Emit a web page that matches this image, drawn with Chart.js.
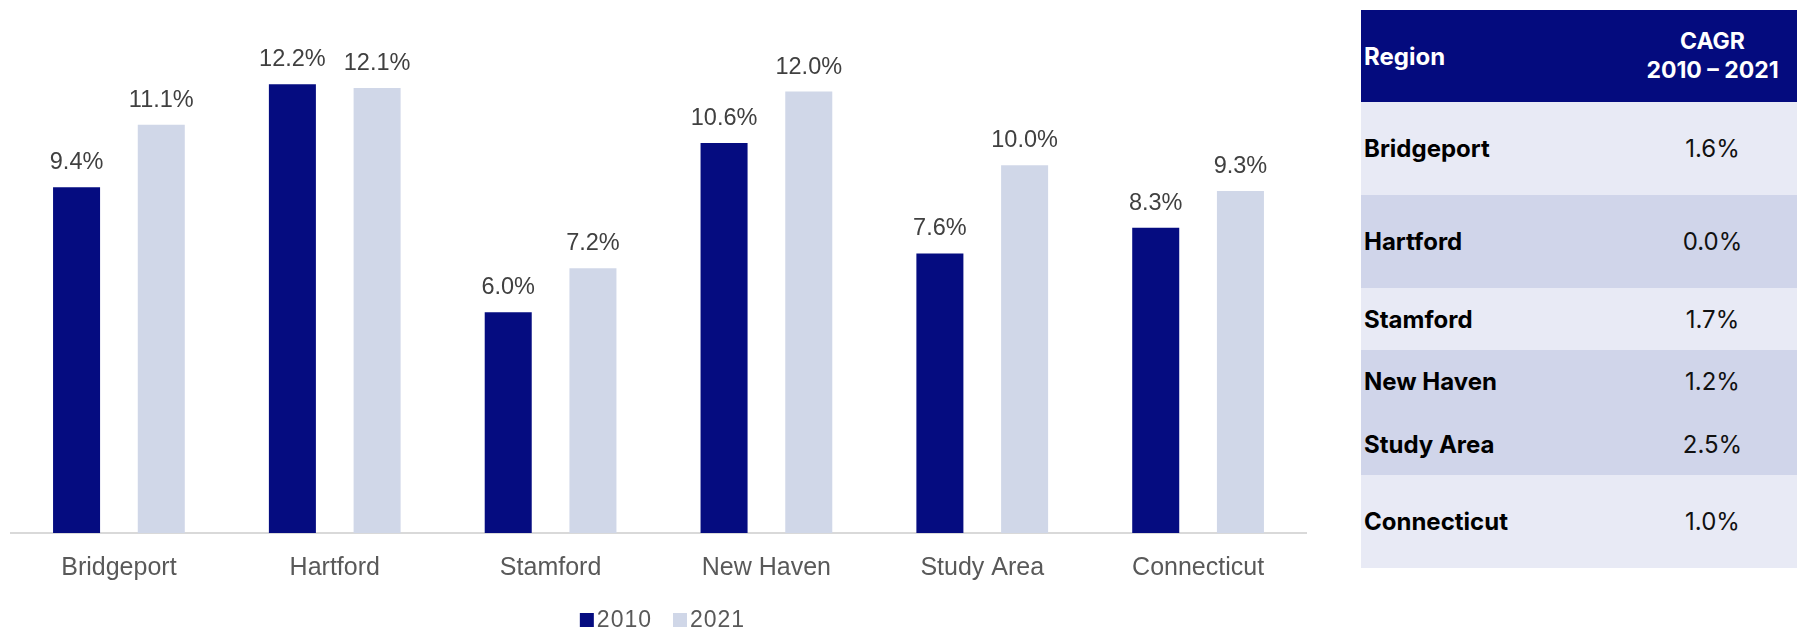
<!DOCTYPE html>
<html>
<head>
<meta charset="utf-8">
<script src="https://cdn.jsdelivr.net/npm/chart.js@4/dist/chart.umd.min.js"></script>
<style>
  body { margin: 0; background: #fff; font-family: Inter, sans-serif; }
  #wrap { position: relative; width: 1797px; height: 634px; }
  #chartBox { position: absolute; left: 0; top: 0; width: 1340px; height: 634px; }
  #cagr { position: absolute; left: 1361px; top: 10px; width: 436px; border-collapse: collapse; }
  #cagr td, #cagr th { padding: 0; font-size: 24px; }
  #cagr th { background: #040b7e; color: #fff; font-weight: 700; height: 92px; line-height: 29px; }
  #cagr th.reg { text-align: left; padding-left: 3px; width: 264px; }
  #cagr th.val { text-align: center; font-size: 23px; }
  #cagr td.reg { font-weight: 700; color: #000; padding-left: 3px; }
  #cagr td.val { text-align: center; color: #111; }
  #cagr tr.light td { background: #e8eaf5; }
  #cagr tr.dark td { background: #d0d5ea; }
</style>
</head>
<body>
<div id="wrap">
  <div id="chartBox"><canvas id="barChart"></canvas></div>
  <table id="cagr">
    <thead>
      <tr><th class="reg">Region</th><th class="val">CAGR<br>2010 – 2021</th></tr>
    </thead>
    <tbody id="cagrBody"></tbody>
  </table>
</div>
<script>
const regions = ["Bridgeport", "Hartford", "Stamford", "New Haven", "Study Area", "Connecticut"];
const share2010 = [9.4, 12.2, 6.0, 10.6, 7.6, 8.3];
const share2021 = [11.1, 12.1, 7.2, 12.0, 10.0, 9.3];
const cagr = [1.6, 0.0, 1.7, 1.2, 2.5, 1.0];

// table rows: height and shade per region
const rowHeights = [93, 93, 62, 63, 62, 93];
const rowShades = ["light", "dark", "light", "dark", "dark", "light"];

const body = document.getElementById("cagrBody");
regions.forEach((name, i) => {
	const tr = document.createElement("tr");
	tr.className = rowShades[i];
	tr.style.height = rowHeights[i] + "px";
	tr.innerHTML = "<td class='reg'>" + name + "</td><td class='val'>" + cagr[i].toFixed(1) + "%</td>";
	body.appendChild(tr);
});

const labelFont = "'Liberation Sans', Arial, sans-serif";

// value labels above each bar
const barValues = {
	id: "barValues",
	afterDatasetsDraw(chart) {
		const ctx = chart.ctx;
		ctx.save();
		ctx.font = "23.5px " + labelFont;
		ctx.fillStyle = "#404040";
		ctx.textAlign = "center";
		ctx.textBaseline = "alphabetic";
		chart.data.datasets.forEach((ds, di) => {
			chart.getDatasetMeta(di).data.forEach((bar, i) => {
				ctx.fillText(ds.data[i].toFixed(1) + "%", bar.x, bar.y - 18);
			});
		});
		ctx.restore();
	}
};

// compact legend under the axis: small square right next to the text
const tightLegend = {
	id: "tightLegend",
	afterDraw(chart) {
		const ctx = chart.ctx;
		const box = 14, gap = 3, spacing = 21;
		ctx.save();
		ctx.font = "23px " + labelFont;
		ctx.letterSpacing = "1px";
		const items = chart.data.datasets.map(ds => ({ text: ds.label, color: ds.backgroundColor, w: ctx.measureText(ds.label).width }));
		const total = items.reduce((s, it) => s + box + gap + it.w, 0) + spacing * (items.length - 1);
		let x = (chart.chartArea.left + chart.chartArea.right) / 2 + 4 - total / 2;
		const cy = 620;
		ctx.textBaseline = "middle";
		ctx.textAlign = "left";
		items.forEach(it => {
			ctx.fillStyle = it.color;
			ctx.fillRect(x, cy - box / 2, box, box);
			x += box + gap;
			ctx.fillStyle = "#595959";
			ctx.fillText(it.text, x, cy + 1);
			x += it.w + spacing;
		});
		ctx.restore();
	}
};

new Chart(document.getElementById("barChart"), {
	type: "bar",
	data: {
		labels: regions,
		datasets: [
			{ label: "2010", data: share2010, backgroundColor: "#050c80" },
			{ label: "2021", data: share2021, backgroundColor: "#d0d7e8" }
		]
	},
	options: {
		responsive: true,
		maintainAspectRatio: false,
		animation: false,
		categoryPercentage: 0.785,
		barPercentage: 0.555,
		layout: { padding: { left: 11, right: 34, top: 18, bottom: 45 } },
		plugins: {
			tooltip: { enabled: false },
			legend: { display: false }
		},
		scales: {
			x: {
				grid: { display: false },
				border: { display: true, color: "#d9d9d9", width: 2 },
				ticks: { color: "#595959", font: { family: labelFont, size: 25 }, padding: 12 },
				afterFit: (s) => { s.height = 56; }
			},
			y: {
				display: false,
				min: 0,
				max: 14
			}
		}
	},
	plugins: [barValues, tightLegend]
});
</script>
</body>
</html>
